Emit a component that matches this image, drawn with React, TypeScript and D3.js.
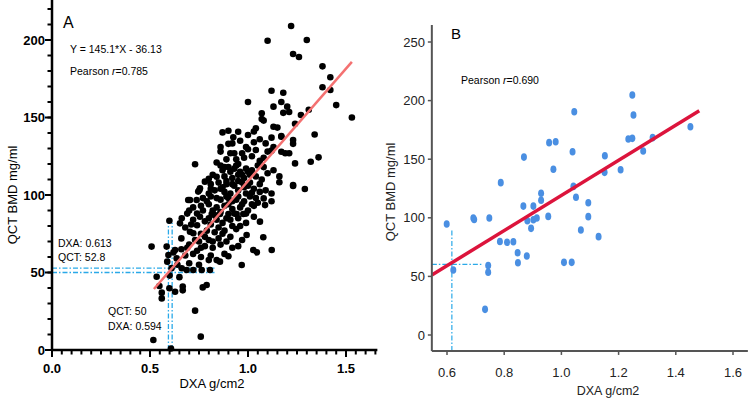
import { scaleLinear, range } from "d3";

// panel A: DXA vs QCT (all subjects)
const ptsA: [number, number][] = [
  [1.22, 209], [1.10, 199.5], [1.30, 200], [1.23, 191], [1.26, 189], [1.38, 183],
  [1.42, 176], [1.38, 169.5], [1.42, 167.7], [1.12, 167.3], [1.18, 166], [1.00, 160],
  [1.17, 160], [1.45, 158], [1.20, 157], [1.13, 157], [1.18, 153], [1.21, 153.5],
  [1.31, 155], [1.27, 151.6], [1.07, 152.7], [1.53, 150], [1.24, 146], [1.07, 149],
  [1.08, 148], [1.13, 144], [1.15, 143.5], [1.04, 143], [1.03, 141], [0.87, 140.4],
  [0.95, 140.8], [0.90, 141.5],
  [1.34, 139], [1.17, 137.6], [1.23, 135.5], [1.23, 133], [1.00, 138.7], [0.925, 137.2],
  [0.90, 133], [0.92, 133.3], [1.09, 133.3], [1.13, 131], [1.12, 137], [1.17, 138],
  [1.03, 134], [0.96, 135], [0.99, 131], [0.86, 131], [1.06, 136],
  [1.12, 128.6], [1.17, 127.9], [1.21, 126.9], [1.24, 120.4], [1.32, 121.5], [1.36, 124.3],
  [1.04, 129], [1.10, 128], [1.19, 126.9], [0.73, 119.8], [0.91, 126.9], [0.93, 126.9],
  [0.97, 126.9], [0.89, 123], [0.94, 123], [0.98, 124], [1.02, 125], [1.06, 122],
  [0.86, 128], [0.84, 121], [1.00, 129.5], [1.08, 124], [0.95, 120],
  [0.87, 116], [0.90, 118], [0.93, 117], [0.96, 115], [0.99, 117], [1.02, 116],
  [1.05, 119], [1.08, 118], [0.84, 111.8], [0.82, 113], [0.88, 112], [0.92, 111],
  [0.95, 113], [0.98, 111], [1.01, 113], [1.04, 112], [1.10, 114], [1.13, 116],
  [0.86, 119], [0.80, 110.5], [1.07, 110], [1.16, 112],
  [0.88, 118], [0.91, 115], [0.94, 119], [0.97, 113], [1.00, 115], [0.89, 109],
  [0.92, 107], [0.95, 109], [0.98, 105], [1.01, 108],
  [0.78, 108.6], [0.81, 107], [0.755, 104.3], [0.746, 102.2], [0.85, 108], [0.89, 107],
  [0.93, 106], [0.97, 108], [1.00, 106], [1.03, 104], [1.06, 107], [1.16, 108.2],
  [1.23, 105.8], [1.29, 103.9], [1.23, 106.5], [0.83, 103], [0.88, 102], [0.91, 101],
  [0.95, 103], [0.99, 101], [1.02, 101.5], [1.09, 103], [0.752, 103.2], [0.80, 101],
  [0.87, 105], [1.12, 101], [0.86, 104], [1.06, 102], [0.81, 104],
  [0.695, 96.8], [0.704, 96.8], [0.738, 96.8], [0.77, 98], [0.81, 99], [0.86, 97],
  [0.90, 98], [0.94, 97], [0.98, 96], [1.01, 99], [1.08, 97.8], [1.05, 95],
  [1.12, 96], [0.72, 92], [0.76, 93], [0.80, 94], [0.84, 92], [0.88, 93],
  [0.92, 91], [0.96, 92], [1.00, 90], [1.03, 93], [1.087, 93.5], [0.70, 90], [0.82, 90],
  [0.89, 99], [0.92, 96], [0.95, 99], [0.97, 94], [0.90, 94], [1.04, 98],
  [0.84, 98], [0.79, 96], [1.02, 94], [0.77, 90],
  [0.662, 85], [0.755, 86], [0.815, 87.7], [0.857, 87.7], [0.90, 87.7], [0.942, 87.7],
  [0.976, 87.7], [0.653, 81.7], [0.72, 84], [0.78, 83], [0.84, 84], [0.87, 82],
  [0.91, 84], [0.95, 85], [0.99, 82], [1.061, 82.8], [0.599, 83.4], [0.69, 88],
  [0.74, 80.5], [0.81, 81], [1.03, 86], [0.86, 89], [0.93, 88], [0.96, 80],
  [0.89, 85], [0.92, 80], [0.83, 87], [0.80, 85], [0.74, 88], [0.71, 81], [0.99, 88],
  [0.704, 76.3], [0.73, 71], [0.76, 75], [0.79, 77], [0.83, 76], [0.87, 75],
  [0.91, 73], [0.94, 78], [0.993, 74.2], [1.078, 72.7], [0.721, 75.3],
  [0.68, 79], [0.80, 71], [0.85, 72], [0.89, 70], [0.97, 71], [0.66, 72],
  [0.85, 79], [0.88, 77], [0.75, 70], [0.78, 73], [0.82, 70],
  [0.508, 66.7], [0.585, 66.7], [0.628, 64.5], [0.66, 65], [0.69, 66], [0.74, 64],
  [0.78, 67], [0.82, 66], [0.86, 68], [0.92, 66], [0.95, 67], [1.027, 64.5],
  [1.121, 64.5], [1.045, 63], [0.62, 63], [0.594, 61.3], [0.636, 59.1], [0.68, 61],
  [0.72, 62], [0.76, 60], [0.81, 61], [0.88, 62], [0.90, 60.5], [0.70, 68], [0.76, 66],
  [0.588, 57], [0.857, 57], [0.968, 54.8], [0.662, 52.7], [0.687, 51.6], [0.721, 51.6],
  [0.764, 51.6], [0.806, 51.6], [0.70, 56], [0.75, 55], [0.80, 58], [0.84, 58],
  [0.64, 55], [0.61, 52.8],
  [0.534, 47.3], [0.548, 41.3], [0.56, 37], [0.56, 33.3], [0.599, 39.8], [0.628, 37.6],
  [0.667, 40.9], [0.667, 38.5], [0.73, 25.4], [0.517, 6.5], [0.607, 1], [0.759, 8.6],
  [0.769, 40.4], [0.789, 41.9], [0.60, 48], [0.65, 47],
];

// panel B
const ptsB: [number, number][] = [
  [1.248, 204.8], [1.252, 187.7], [1.045, 190.5], [1.451, 177.7], [1.234, 167.2],
  [1.248, 167.8], [1.319, 168.4], [1.286, 157], [0.957, 164.1], [0.98, 164.9],
  [1.039, 156.4], [0.869, 151.8], [1.152, 153], [0.972, 141.4], [1.151, 138.8],
  [1.207, 141], [0.788, 130], [0.929, 121], [1.042, 126.8], [1.051, 117.5],
  [0.929, 115], [0.867, 110], [0.902, 110], [1.094, 112.8], [1.094, 101],
  [0.954, 101.2], [0.914, 99.8], [0.902, 98.3], [0.881, 97.5], [0.894, 91],
  [1.068, 89.6], [1.13, 83.9], [0.692, 99.8], [0.695, 98.6], [0.748, 99.8],
  [0.599, 94.7], [0.785, 79.8], [0.81, 79.1], [0.832, 79.6], [0.847, 70.2],
  [0.848, 61.7], [0.879, 67.4], [1.009, 62], [1.036, 62], [0.744, 59.2],
  [0.744, 53.5], [0.622, 55.5], [0.733, 21.9],
];

const ticksAx = [0, 0.5, 1.0, 1.5];
const ticksAy = [0, 50, 100, 150, 200];
const ticksBx = [0.6, 0.8, 1.0, 1.2, 1.4, 1.6];
const ticksBy = [0, 50, 100, 150, 200, 250];

const fitA = { slope: 145.1, intercept: -36.13, from: 0.52, to: 1.53 };
const fitB = { slope: 149.9, intercept: -30.8, from: 0.547, to: 1.482 };

const SANS = "'Liberation Sans', Arial, sans-serif";
const DASH = "5,2,1.5,2";
const CYAN = "#2aa9e8";

export default function App() {
  // panel A scales
  const xA = scaleLinear().domain([0, 1.5]).range([52, 346]);
  const yA = scaleLinear().domain([0, 200]).range([350, 40]);
  // panel B scales
  const xB = scaleLinear().domain([0.6, 1.6]).range([447, 733]);
  const yB = scaleLinear().domain([0, 250]).range([335, 42]);

  const minorAx = range(0, 1.66, 0.05);
  const minorAy = range(0, 221, 10);

  return (
    <svg width={749} height={399} style={{ position: "absolute", left: 0, top: 0, background: "#fff" }}>
      {/* ---------- panel A ---------- */}
      <g>
        {/* dash-dot guides */}
        {[52.8, 50].map((v) => (
          <line key={"h" + v} x1={xA(0)} x2={xA(0.83)} y1={yA(v)} y2={yA(v)}
            stroke={CYAN} strokeWidth={1.3} strokeDasharray={DASH} />
        ))}
        {[0.594, 0.613].map((v) => (
          <line key={"v" + v} x1={xA(v)} x2={xA(v)} y1={yA(0)} y2={yA(82)}
            stroke={CYAN} strokeWidth={1.3} strokeDasharray={DASH} />
        ))}
        {ptsA.map((d, i) => (
          <circle key={i} cx={xA(d[0])} cy={yA(d[1])} r={3.3} fill="#000" />
        ))}
        <line x1={xA(fitA.from)} y1={yA(fitA.slope * fitA.from + fitA.intercept)}
          x2={xA(fitA.to)} y2={yA(fitA.slope * fitA.to + fitA.intercept)}
          stroke="#f47171" strokeWidth={2.5} />

        {/* axes */}
        <line x1={xA(0)} x2={xA(1.66)} y1={yA(0)} y2={yA(0)} stroke="#000" strokeWidth={2.5} />
        <line x1={xA(0)} x2={xA(0)} y1={yA(0) + 1} y2={0} stroke="#000" strokeWidth={2.5} />
        {minorAx.map((t) => (
          <line key={"mx" + t} x1={xA(t)} x2={xA(t)} y1={yA(0)} y2={yA(0) + 4.5} stroke="#000" strokeWidth={2} />
        ))}
        {ticksAx.map((t) => (
          <g key={"tx" + t}>
            <line x1={xA(t)} x2={xA(t)} y1={yA(0)} y2={yA(0) + 7} stroke="#000" strokeWidth={2} />
            <text x={xA(t)} y={373} textAnchor="middle" fontFamily={SANS} fontWeight="bold" fontSize={13}>
              {t.toFixed(1)}
            </text>
          </g>
        ))}
        {minorAy.map((t) => (
          <line key={"my" + t} x1={xA(0) - 4.5} x2={xA(0)} y1={yA(t)} y2={yA(t)} stroke="#000" strokeWidth={2} />
        ))}
        {ticksAy.map((t) => (
          <g key={"ty" + t}>
            <line x1={xA(0) - 7} x2={xA(0)} y1={yA(t)} y2={yA(t)} stroke="#000" strokeWidth={2} />
            <text x={45} y={yA(t) + 4.5} textAnchor="end" fontFamily={SANS} fontWeight="bold" fontSize={13}>
              {t}
            </text>
          </g>
        ))}
        <text x={212} y={388} textAnchor="middle" fontFamily={SANS} fontSize={13}>DXA g/cm2</text>
        <text transform="translate(17,195) rotate(-90)" textAnchor="middle" fontFamily={SANS} fontSize={13}>
          QCT BMD mg/ml
        </text>

        <text x={63} y={28} fontFamily={SANS} fontSize={16}>A</text>
        <text x={70} y={53} fontFamily={SANS} fontSize={10.5}>Y = 145.1*X - 36.13</text>
        <text x={70} y={75} fontFamily={SANS} fontSize={10.5}>
          Pearson <tspan fontStyle="italic">r</tspan>=0.785
        </text>
        <text x={58} y={247} fontFamily={SANS} fontSize={10.5}>DXA: 0.613</text>
        <text x={58} y={261} fontFamily={SANS} fontSize={10.5}>QCT: 52.8</text>
        <text x={108} y={315} fontFamily={SANS} fontSize={10.5}>QCT: 50</text>
        <text x={108} y={330} fontFamily={SANS} fontSize={10.5}>DXA: 0.594</text>
      </g>

      {/* ---------- panel B ---------- */}
      <g>
        <line x1={xB(0.547)} x2={xB(0.617)} y1={yB(60.3)} y2={yB(60.3)}
          stroke={CYAN} strokeWidth={1.2} strokeDasharray={DASH} />
        <line x1={xB(0.617)} x2={xB(0.617)} y1={yB(-13.6)} y2={yB(90.4)}
          stroke={CYAN} strokeWidth={1.2} strokeDasharray={DASH} />
        <line x1={xB(0.617)} x2={xB(0.721)} y1={yB(60.3)} y2={yB(60.3)}
          stroke={CYAN} strokeWidth={1.2} strokeDasharray={DASH} />
        {ptsB.map((d, i) => (
          <ellipse key={i} cx={xB(d[0])} cy={yB(d[1])} rx={3} ry={3.8} fill="#4a8fe2" />
        ))}
        <line x1={xB(fitB.from)} y1={yB(fitB.slope * fitB.from + fitB.intercept)}
          x2={xB(fitB.to)} y2={yB(fitB.slope * fitB.to + fitB.intercept)}
          stroke="#dc143c" strokeWidth={3.5} />

        <line x1={xB(0.547)} x2={xB(1.652)} y1={yB(-13.6)} y2={yB(-13.6)} stroke="#555" strokeWidth={2} />
        <line x1={xB(0.547)} x2={xB(0.547)} y1={yB(-13.6)} y2={yB(264.5)} stroke="#555" strokeWidth={2} />
        {ticksBx.map((t) => (
          <g key={"bx" + t}>
            <line x1={xB(t)} x2={xB(t)} y1={yB(-13.6)} y2={yB(-13.6) + 4} stroke="#555" strokeWidth={1.5} />
            <text x={xB(t)} y={377} textAnchor="middle" fontFamily={SANS} fontSize={13} fill="#222">
              {t.toFixed(1)}
            </text>
          </g>
        ))}
        {ticksBy.map((t) => (
          <g key={"by" + t}>
            <line x1={xB(0.547) - 4} x2={xB(0.547)} y1={yB(t)} y2={yB(t)} stroke="#555" strokeWidth={1.5} />
            <text x={425} y={yB(t) + 4.5} textAnchor="end" fontFamily={SANS} fontSize={13} fill="#222">
              {t}
            </text>
          </g>
        ))}
        <text x={608} y={395} textAnchor="middle" fontFamily={SANS} fontSize={12.5} fill="#222">DXA g/cm2</text>
        <text transform="translate(395,192) rotate(-90)" textAnchor="middle" fontFamily={SANS} fontSize={13} fill="#222">
          QCT BMD mg/ml
        </text>
        <text x={451} y={39} fontFamily={SANS} fontSize={15}>B</text>
        <text x={461} y={84} fontFamily={SANS} fontSize={10.5}>
          Pearson <tspan fontStyle="italic">r</tspan>=0.690
        </text>
      </g>
    </svg>
  );
}
